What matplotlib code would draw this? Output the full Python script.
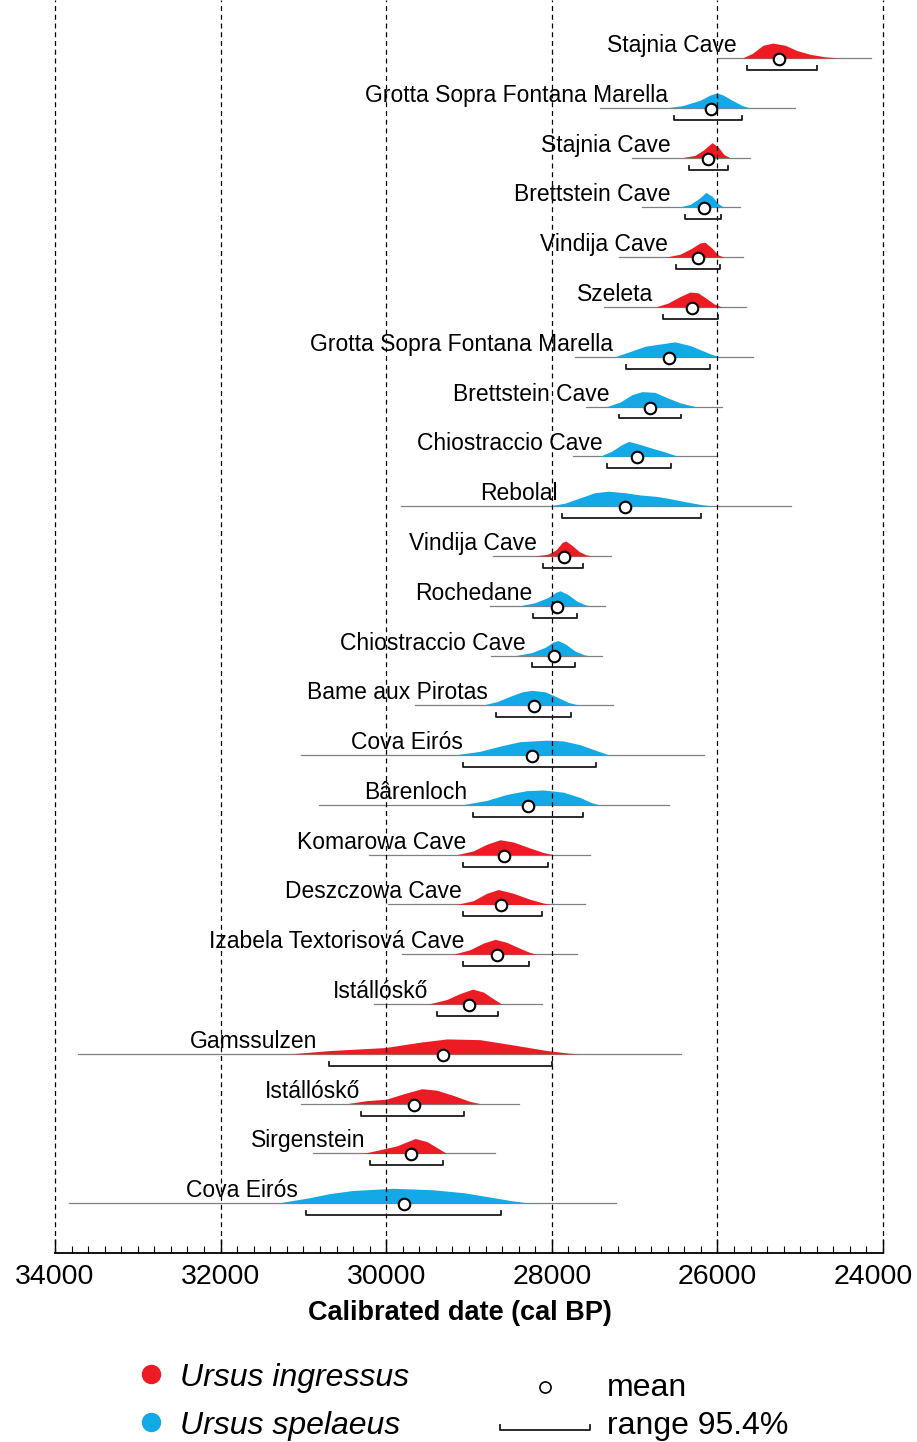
import matplotlib.pyplot as plt
import numpy as np
from matplotlib.ticker import MultipleLocator, FuncFormatter

plt.rcParams['font.family'] = ['Liberation Sans', 'DejaVu Sans']

# Sites from top to bottom (youngest first)
sites = ["Stajnia Cave", "Grotta Sopra Fontana Marella", "Stajnia Cave", "Brettstein Cave",
         "Vindija Cave", "Szeleta", "Grotta Sopra Fontana Marella", "Brettstein Cave",
         "Chiostraccio Cave", "Rebolal", "Vindija Cave", "Rochedane", "Chiostraccio Cave",
         "Bame aux Pirotas", "Cova Eirós", "Bârenloch", "Komarowa Cave", "Deszczowa Cave",
         "Izabela Textorisová Cave", "Istállóskő", "Gamssulzen", "Istállóskő", "Sirgenstein",
         "Cova Eirós"]
# I = Ursus ingressus, S = Ursus spelaeus
species = ["I", "S", "I", "S", "I", "I", "S", "S", "S", "S", "I", "S", "S",
           "S", "S", "S", "I", "I", "I", "I", "I", "I", "I", "S"]

# full extent of the calibrated distribution (cal BP)
span_old = [26010, 27420, 27030, 26915, 27190, 27365, 27715, 27585, 27740, 29825, 28705, 28745,
            28735, 29650, 31035, 30810, 30205, 29975, 29815, 30145, 33720, 31035, 30880, 33830]
span_young = [24140, 25065, 25605, 25725, 25685, 25650, 25575, 25940, 26010, 25110, 27290, 27355,
              27395, 27260, 26160, 26580, 27540, 27600, 27700, 28120, 26445, 28395, 28685, 27225]
# mean
mean = [25256, 26080, 26115, 26165, 26230, 26310, 26585, 26815, 26970, 27115, 27855, 27935,
        27970, 28220, 28235, 28285, 28575, 28615, 28660, 28995, 29315, 29660, 29700, 29785]
# range 95.4%
r_old = [25645, 26525, 26345, 26395, 26500, 26660, 27105, 27190, 27330, 27875, 28105, 28230,
         28245, 28675, 29070, 28955, 29075, 29070, 29075, 29385, 30690, 30305, 30195, 30965]
r_young = [24800, 25705, 25870, 25955, 25965, 25990, 26085, 26445, 26565, 26195, 27625, 27690,
           27715, 27765, 27465, 27625, 28040, 28120, 28275, 28645, 28000, 29055, 29315, 28615]
# where each site name ends (cal BP)
label_at = [25763, 26597, 26561, 26561, 26597, 26778, 27261, 27309, 27382, 27931, 28179, 28239,
            28312, 28771, 29073, 29024, 29036, 29085, 29061, 29495, 30836, 30317, 30256, 31065]

# probability curves: (cal BP, relative height)
curves = [
    [(25700, 0), (25580, .3), (25450, .85), (25330, 1), (25180, .85), (25040, .5), (24880, .25), (24700, .08), (24520, 0)],
    [(26610, 0), (26420, .15), (26210, .5), (26090, .85), (26005, 1), (25930, .85), (25820, .5), (25700, .15), (25610, 0)],
    [(26420, 0), (26270, .15), (26170, .5), (26065, 1), (25990, .7), (25920, .2), (25850, 0)],
    [(26480, 0), (26330, .2), (26220, .6), (26140, 1), (26065, .75), (25990, .25), (25920, 0)],
    [(26630, 0), (26450, .2), (26310, .6), (26210, .95), (26150, 1), (26065, .6), (25990, .15), (25920, 0)],
    [(26750, 0), (26600, .25), (26450, .7), (26330, 1), (26235, .95), (26140, .6), (26040, .2), (25945, 0)],
    [(27240, 0), (27055, .35), (26875, .7), (26695, .85), (26515, 1), (26330, .75), (26175, .4), (26065, .15), (25970, 0)],
    [(27335, 0), (27175, .3), (27030, .8), (26910, 1), (26755, .95), (26610, .6), (26450, .25), (26270, 0)],
    [(27420, 0), (27275, .35), (27150, .8), (27070, 1), (26935, .8), (26790, .55), (26635, .3), (26475, 0)],
    [(28045, 0), (27840, .2), (27660, .55), (27480, .9), (27320, 1), (27115, .9), (26935, .75), (26730, .65),
     (26575, .5), (26390, .3), (26210, .12), (26055, 0)],
    [(28205, 0), (28045, .12), (27950, .4), (27875, .9), (27830, 1), (27755, .7), (27670, .3), (27590, .08), (27515, 0)],
    [(28385, 0), (28205, .2), (28045, .55), (27950, .9), (27900, 1), (27805, .75), (27695, .3), (27590, .05), (27540, 0)],
    [(28435, 0), (28240, .2), (28080, .55), (27985, .9), (27925, 1), (27830, .75), (27720, .3), (27610, .05), (27565, 0)],
    [(28845, 0), (28660, .25), (28505, .6), (28360, .9), (28240, 1), (28080, .9), (27935, .55), (27805, .2), (27660, 0)],
    [(29190, 0), (28870, .25), (28625, .6), (28385, .9), (28060, 1), (27865, .95), (27660, .7), (27460, .3), (27300, 0)],
    [(29090, 0), (28785, .3), (28545, .7), (28305, .95), (28105, 1), (27860, .85), (27660, .5), (27520, .15), (27420, 0)],
    [(29150, 0), (28950, .25), (28785, .7), (28625, 1), (28465, .85), (28265, .45), (28105, .15), (27980, 0)],
    [(29150, 0), (28950, .25), (28785, .75), (28645, 1), (28465, .75), (28265, .35), (28105, .1), (28020, 0)],
    [(29190, 0), (28990, .3), (28825, .75), (28685, 1), (28545, .8), (28385, .4), (28265, .12), (28180, 0)],
    [(29490, 0), (29270, .3), (29110, .7), (28955, 1), (28825, .8), (28705, .35), (28605, 0)],
    [(31160, 0), (30680, .22), (30015, .42), (29590, .78), (29265, 1), (28870, .95), (28470, .6), (28060, .22),
     (27800, .05), (27660, 0)],
    [(30475, 0), (30235, .2), (29995, .3), (29795, .65), (29570, 1), (29390, .9), (29190, .55), (28990, .15), (28865, 0)],
    [(30275, 0), (30075, .25), (29875, .5), (29650, 1), (29510, .8), (29390, .4), (29270, 0)],
    [(31325, 0), (30945, .35), (30675, .65), (30405, .85), (29920, 1), (29435, .9), (29060, .7), (28790, .45),
     (28465, .15), (28250, 0)],
]

RED = '#ed1c24'
BLUE = '#12a9e6'
cor = {'I': RED, 'S': BLUE}
H = 0.30  # height of the curves, in rows

fig = plt.figure(figsize=(9.17, 14.42), dpi=100)
ax = fig.add_axes([55 / 917, 189 / 1442, 828 / 917, 1253 / 1442])

for i in range(len(sites)):
    ax.plot([span_old[i], span_young[i]], [i, i], color='#808080', lw=0.9, zorder=2)
    xs = np.array([p[0] for p in curves[i]])
    hs = np.array([p[1] for p in curves[i]])
    ax.fill_between(xs, i, i - H * hs, color=cor[species[i]], lw=0, zorder=3)
    yb = i + 0.24
    ax.plot([r_old[i], r_old[i], r_young[i], r_young[i]], [yb - 0.08, yb, yb, yb - 0.08],
            color='#1a1a1a', lw=1.3, zorder=5)
    ax.plot(mean[i], i + 0.02, 'o', ms=8.3, mfc='white', mec='black', mew=1.5, zorder=6)
    ax.text(label_at[i], i - 0.12, sites[i], ha='right', va='baseline', fontsize=16.5, zorder=7)

# linhas tracejadas verticais
for x in range(24000, 34001, 2000):
    ax.axvline(x, color='black', lw=0.9, ls=(0, (4, 3)), zorder=4, clip_on=False)

ax.set_xlim(34000, 24000)
ax.set_ylim(24, -1.165)
for s in ['top', 'left', 'right']:
    ax.spines[s].set_visible(False)
ax.spines['bottom'].set_linewidth(1.3)
ax.xaxis.set_major_locator(MultipleLocator(2000))
ax.xaxis.set_minor_locator(MultipleLocator(200))
# o rotulo 24000 e escrito a parte, deslocado para nao sair da figura
ax.xaxis.set_major_formatter(FuncFormatter(lambda v, p: '' if v <= 24000 else f'{v:.0f}'))
ax.tick_params(axis='x', which='major', direction='in', length=10, width=1, labelsize=20.5, pad=8)
ax.tick_params(axis='x', which='minor', direction='in', length=5, width=0.8)
ax.set_yticks([])
ax.annotate('24000', xy=(24000, 0), xycoords=('data', 'axes fraction'), xytext=(-7, -8),
            textcoords='offset points', ha='center', va='top', fontsize=20.5)

fig.text(460 / 917, 1 - 1313 / 1442, "Calibrated date (cal BP)", ha='center', va='center',
         fontsize=19.5, fontweight='bold')

# legenda em coordenadas de pixel
lg = fig.add_axes([0, 0, 1, 1])
lg.set_xlim(0, 917)
lg.set_ylim(1442, 0)
lg.axis('off')
lg.plot(151, 1374, 'o', ms=13, color=RED)
lg.plot(151, 1422, 'o', ms=13, color=BLUE)
lg.text(180, 1386, "Ursus ingressus", style='italic', fontsize=23, va='baseline')
lg.text(180, 1434, "Ursus spelaeus", style='italic', fontsize=23, va='baseline')
lg.plot(545, 1387, 'o', ms=8, mfc='white', mec='black', mew=1.2)
lg.text(607, 1396, "mean", fontsize=23, va='baseline')
lg.plot([500, 500, 590, 590], [1425, 1430, 1430, 1425], color='#1a1a1a', lw=1.3)
lg.text(607, 1434, "range 95.4%", fontsize=23, va='baseline')

fig.savefig('out.png', dpi=100)
